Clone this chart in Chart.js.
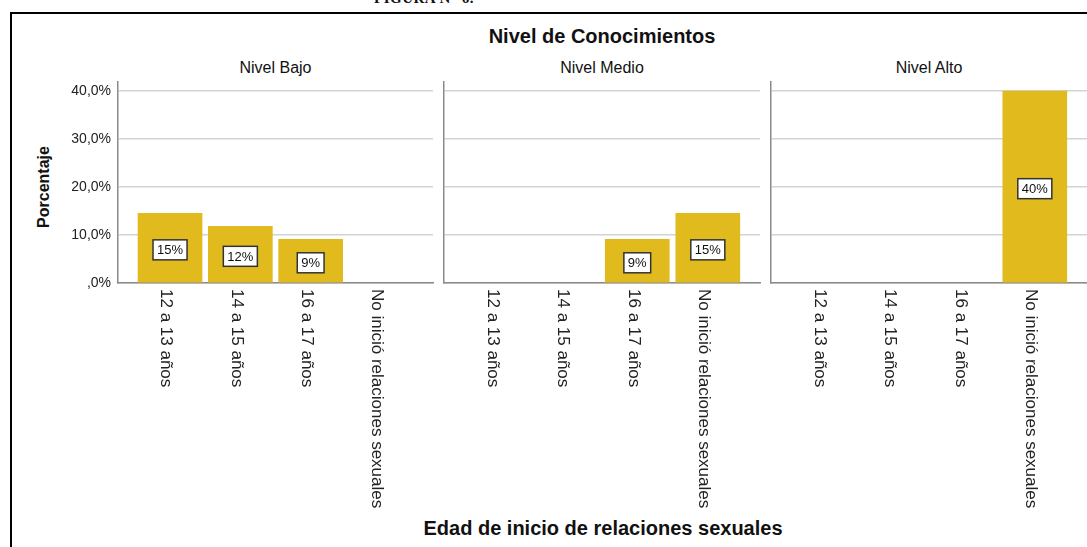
<!DOCTYPE html>
<html>
<head>
<meta charset="utf-8">
<script src="https://cdn.jsdelivr.net/npm/chart.js@4"></script>
<style>
  body { margin: 0; background: #fff; }
  #wrap { position: relative; width: 1087px; height: 547px; overflow: hidden; font-family: 'Liberation Sans', Arial, sans-serif; color: #111; }
  #wrap canvas { position: absolute; left: 0; top: 0; }
  .frame { position: absolute; left: 10px; top: 12px; width: 1200px; height: 700px; border-left: 2px solid #000; border-top: 2px solid #000; }
  .txt { position: absolute; white-space: nowrap; line-height: 1; transform: translate(-50%, -50%); }
  .figura { position: absolute; left: 374px; top: -9px; font: bold 15px 'Liberation Serif', 'Times New Roman', serif; letter-spacing: 0.5px; line-height: 1; white-space: nowrap; }
</style>
</head>
<body>
<div id="wrap">
  <div class="figura">FIGURA N° 6.</div>
  <div class="frame"></div>
  <div class="txt" style="left:602px; top:36px; font-weight:bold; font-size:20px;">Nivel de Conocimientos</div>
  <div class="txt" id="p0" style="top:68px; font-size:16px;"></div>
  <div class="txt" id="p1" style="top:68px; font-size:16px;"></div>
  <div class="txt" id="p2" style="top:68px; font-size:16px;"></div>
  <div class="txt" style="left:44px; top:187px; font-weight:bold; font-size:16px; transform: translate(-50%, -50%) rotate(-90deg);">Porcentaje</div>
  <div class="txt" style="left:603px; top:528px; font-weight:bold; font-size:20px;">Edad de inicio de relaciones sexuales</div>
  <canvas id="c0" width="1087" height="547"></canvas>
  <canvas id="c1" width="1087" height="547"></canvas>
  <canvas id="c2" width="1087" height="547"></canvas>
</div>
<script>
// datos
const categorias = ['12 a 13 años', '14 a 15 años', '16 a 17 años', 'No inició relaciones sexuales'];
const paneles = ['Nivel Bajo', 'Nivel Medio', 'Nivel Alto'];
const nivelBajo = [14.5, 11.8, 9.1, 0];
const nivelMedio = [0, 0, 9.1, 14.5];
const nivelAlto = [0, 0, 0, 40.0];
const yTicks = [0, 10, 20, 30, 40];

// geometria de los paneles
const W = 1087, H = 547, TOP = 82, BOTTOM = 283;
const areas = [
  { left: 118, right: 433 },
  { left: 444, right: 760 },
  { left: 771, right: 1087 }
];

Chart.defaults.font.family = "'Liberation Sans', Arial, sans-serif";

function fmtPct(v) {
  if (v === 0) return ',0%';
  return v.toFixed(1).replace('.', ',') + '%';
}

const etiquetas = {
  id: 'etiquetas',
  afterDatasetsDraw(chart) {
    const ctx = chart.ctx;
    const meta = chart.getDatasetMeta(0);
    const vals = chart.data.datasets[0].data;
    ctx.save();
    ctx.font = "13px 'Liberation Sans', Arial, sans-serif";
    ctx.textAlign = 'center';
    ctx.textBaseline = 'middle';
    meta.data.forEach(function (bar, i) {
      const v = vals[i].y;
      if (!v) return;
      const txt = Math.round(v) + '%';
      const w = ctx.measureText(txt).width + 8, h = 20;
      const cx = bar.x, cy = (bar.y + bar.base) / 2 + 2;
      ctx.fillStyle = '#fff';
      ctx.fillRect(cx - w / 2, cy - h / 2, w, h);
      ctx.strokeStyle = '#333';
      ctx.lineWidth = 1.5;
      ctx.strokeRect(cx - w / 2, cy - h / 2, w, h);
      ctx.fillStyle = '#111';
      ctx.fillText(txt, cx, cy + 1);
    });
    // etiquetas de categoria, giradas hacia abajo
    const xs = chart.scales.x;
    ctx.font = "17px 'Liberation Sans', Arial, sans-serif";
    ctx.textAlign = 'left';
    ctx.fillStyle = '#222';
    categorias.forEach(function (c, i) {
      ctx.save();
      ctx.translate(xs.getPixelForValue(i) - 4, chart.chartArea.bottom + 6);
      ctx.rotate(Math.PI / 2);
      ctx.fillText(c, 0, 0);
      ctx.restore();
    });
    ctx.restore();
  }
};

function crearPanel(id, valores, area, conEje) {
  const ctx = document.getElementById(id).getContext('2d');
  return new Chart(ctx, {
    type: 'bar',
    data: {
      datasets: [{
        data: valores.map(function (v, i) { return { x: i, y: v }; }),
        backgroundColor: function (c) { return c.raw && c.raw.y ? '#E1BA1E' : 'rgba(0,0,0,0)'; },
        borderWidth: 0,
        barThickness: 64
      }]
    },
    options: {
      responsive: false,
      animation: false,
      layout: { padding: { left: conEje ? 0 : area.left, right: W - area.right, top: TOP, bottom: H - BOTTOM } },
      plugins: { legend: { display: false }, tooltip: { enabled: false } },
      scales: {
        x: {
          type: 'linear', min: -0.74, max: 3.74, offset: false,
          grid: { display: false },
          border: { display: true, color: '#8a8a8a', width: 1.5 },
          ticks: { display: false },
          afterFit: function (s) { s.height = 0; }
        },
        y: {
          min: 0, max: 41.9,
          grid: { color: '#d3d3d3', lineWidth: 1.5, drawTicks: false },
          border: { display: true, color: '#8a8a8a', width: 1.5 },
          ticks: { display: conEje, padding: 7, color: '#222', font: { size: 14 }, callback: fmtPct },
          afterBuildTicks: function (s) { s.ticks = yTicks.map(function (v) { return { value: v }; }); },
          afterFit: function (s) { s.width = conEje ? area.left : 0; }
        }
      }
    },
    plugins: [etiquetas]
  });
}

paneles.forEach(function (p, i) {
  const el = document.getElementById('p' + i);
  el.textContent = p;
  el.style.left = ((areas[i].left + areas[i].right) / 2) + 'px';
});

crearPanel('c0', nivelBajo, areas[0], true);
crearPanel('c1', nivelMedio, areas[1], false);
crearPanel('c2', nivelAlto, areas[2], false);
</script>
</body>
</html>
